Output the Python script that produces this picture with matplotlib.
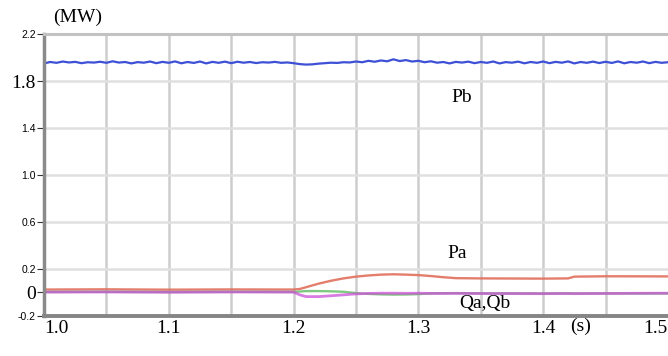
import matplotlib
matplotlib.use("Agg")
from matplotlib import pyplot as plt

# tempo (s) e potências (MW)
t_pb = [1.0 + 0.005 * i for i in range(101)]
pb = [1.950, 1.962, 1.955, 1.966, 1.958, 1.963, 1.952, 1.960, 1.957, 1.964,
      1.955, 1.968, 1.957, 1.962, 1.950, 1.961, 1.956, 1.966, 1.952, 1.963,
      1.955, 1.967, 1.951, 1.962, 1.954, 1.966, 1.950, 1.963, 1.955, 1.965,
      1.952, 1.964, 1.956, 1.962, 1.953, 1.960, 1.957, 1.963, 1.955, 1.958,
      1.952, 1.944, 1.940, 1.942, 1.948, 1.952, 1.956, 1.954, 1.960, 1.958,
      1.966, 1.960, 1.972, 1.964, 1.975, 1.968, 1.985, 1.970, 1.978, 1.966,
      1.972, 1.960, 1.968, 1.956, 1.962, 1.950, 1.963, 1.957, 1.965, 1.952,
      1.962, 1.955, 1.966, 1.950, 1.961, 1.956, 1.965, 1.951, 1.962, 1.955,
      1.966, 1.952, 1.963, 1.956, 1.967, 1.950, 1.962, 1.955, 1.965, 1.953,
      1.964, 1.954, 1.967, 1.951, 1.962, 1.956, 1.966, 1.952, 1.963, 1.955,
      1.960]

t_pq = [1.00, 1.05, 1.10, 1.15, 1.20, 1.205, 1.21, 1.22, 1.23, 1.24, 1.25,
        1.26, 1.27, 1.28, 1.29, 1.30, 1.31, 1.32, 1.33, 1.35, 1.40, 1.42,
        1.425, 1.45, 1.50]
pa = [0.025, 0.027, 0.024, 0.026, 0.025, 0.030, 0.045, 0.075, 0.100, 0.120,
      0.135, 0.145, 0.152, 0.155, 0.152, 0.148, 0.140, 0.130, 0.122, 0.120,
      0.118, 0.120, 0.135, 0.138, 0.137]
qa = [0.005, 0.006, 0.004, 0.006, 0.005, 0.008, 0.012, 0.012, 0.010, 0.006,
      -0.005, -0.012, -0.016, -0.018, -0.017, -0.014, -0.008, -0.006, -0.006,
      -0.007, -0.008, -0.007, -0.008, -0.008, -0.008]
qb = [0.003, 0.004, 0.002, 0.004, 0.003, -0.020, -0.035, -0.035, -0.028,
      -0.020, -0.012, -0.008, -0.006, -0.006, -0.007, -0.006, -0.008, -0.008,
      -0.007, -0.009, -0.010, -0.009, -0.010, -0.008, -0.006]

y_ticks = [-0.2, 0, 0.2, 0.6, 1.0, 1.4, 1.8, 2.2]
y_labels = ['-0.2', '0', '0.2', '0.6', '1.0', '1.4', '1.8', '2.2']
y_grid = [0.2, 0.6, 1.0, 1.4, 1.8]
x_ticks = [1.0, 1.1, 1.2, 1.3, 1.4, 1.5]
x_labels = ['1.0', '1.1', '1.2', '1.3', '1.4', '1.5']
x_grid = [1.05, 1.10, 1.15, 1.20, 1.25, 1.30, 1.35, 1.40, 1.45]

serif = 'Liberation Serif'
sans = 'Liberation Sans'

fig = plt.figure(figsize=(6.68, 3.56), dpi=100)
ax = fig.add_axes([0.0659, 0.1124, 0.934, 0.792])
ax.set_xlim(1.0, 1.5)
ax.set_ylim(-0.2, 2.2)

# grade
for g in x_grid:
    ax.axvline(g, color='#cdcdcd', lw=1.8, zorder=0)
for g in y_grid:
    ax.axhline(g, color='#e0e0e0', lw=1.8, zorder=0)

# curvas
ax.plot(t_pq, pa, color='#e2705c', lw=1.7, alpha=0.9)
ax.plot(t_pq, qa, color='#72c472', lw=1.7, alpha=0.9)
ax.plot(t_pq, qb, color='#cc50d8', lw=2.0, alpha=0.75)
ax.plot(t_pb, pb, color='#3d50d6', lw=1.6)

# bordas
ax.spines['right'].set_visible(False)
ax.spines['left'].set_color('#8a8a8a')
ax.spines['left'].set_linewidth(2.5)
ax.spines['bottom'].set_color('#858585')
ax.spines['bottom'].set_linewidth(2.8)
ax.spines['top'].set_color('#c2c2c2')
ax.spines['top'].set_linewidth(2.2)

ax.set_yticks(y_ticks)
ax.set_yticklabels(y_labels)
ax.tick_params(axis='y', length=5, width=0.8, pad=1, color='#333333')
for lab in ax.get_yticklabels():
    if lab.get_text() in ('0', '1.8'):
        lab.set_fontfamily(serif)
        lab.set_fontsize(14)
    else:
        lab.set_fontfamily(sans)
        lab.set_fontsize(7.5)

ax.set_xticks(x_ticks)
ax.set_xticklabels(x_labels, fontfamily=serif, fontsize=14)
ax.tick_params(axis='x', length=0, pad=3)
xl = ax.get_xticklabels()
xl[0].set_ha('left')
xl[-1].set_ha('right')

# rótulos
ax.text(1.027, 2.34, '(MW)', fontfamily=serif, fontsize=14, ha='center', va='center', clip_on=False)
ax.text(1.430, -0.29, '(s)', fontfamily=serif, fontsize=14, ha='center', va='center', clip_on=False)
ax.text(1.335, 1.664, 'Pb', fontfamily=serif, fontsize=14, ha='center', va='center')
ax.text(1.331, 0.332, 'Pa', fontfamily=serif, fontsize=14, ha='center', va='center')
ax.text(1.353, -0.094, 'Qa,Qb', fontfamily=serif, fontsize=14, ha='center', va='center')

fig.savefig('out.png', dpi=100)
